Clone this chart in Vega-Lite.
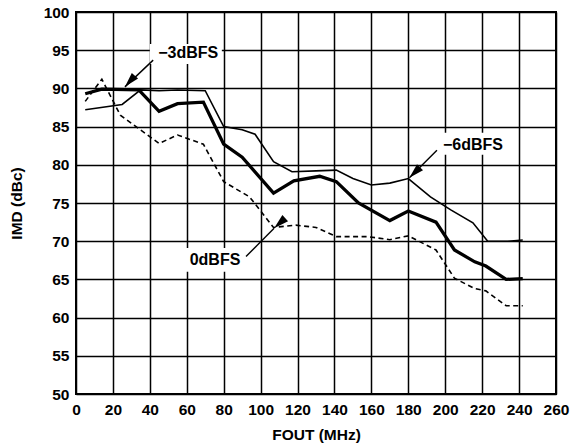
{
  "$schema": "https://vega.github.io/schema/vega-lite/v6.json",
  "width": 480,
  "height": 382,
  "autosize": {"type": "none"},
  "padding": {"left": 76, "top": 12, "right": 15, "bottom": 54},
  "background": "white",
  "config": {
    "font": "Liberation Sans",
    "view": {"stroke": "black", "strokeWidth": 2},
    "axis": {
      "grid": true, "gridColor": "black", "gridWidth": 1.5, "gridOpacity": 1,
      "domain": false, "ticks": false, "labelOverlap": false, "labelBound": false, "labelFlush": false,
      "labelFont": "Liberation Sans", "labelFontWeight": "bold", "labelFontSize": 15.5, "labelColor": "black",
      "titleFont": "Liberation Sans", "titleFontWeight": "bold", "titleFontSize": 15.5, "titleColor": "black"
    }
  },
  "datasets": {
    "curves": [
      {"series": "-6dBFS", "f": 5, "imd": 87.2}, {"series": "-6dBFS", "f": 25, "imd": 87.9}, {"series": "-6dBFS", "f": 35, "imd": 89.8},
      {"series": "-6dBFS", "f": 45, "imd": 89.7}, {"series": "-6dBFS", "f": 55, "imd": 89.8}, {"series": "-6dBFS", "f": 70, "imd": 89.7},
      {"series": "-6dBFS", "f": 80, "imd": 85.0}, {"series": "-6dBFS", "f": 90, "imd": 84.6}, {"series": "-6dBFS", "f": 97, "imd": 84.0},
      {"series": "-6dBFS", "f": 107, "imd": 80.4}, {"series": "-6dBFS", "f": 117, "imd": 79.1}, {"series": "-6dBFS", "f": 130, "imd": 79.2},
      {"series": "-6dBFS", "f": 141, "imd": 79.3}, {"series": "-6dBFS", "f": 150, "imd": 78.2}, {"series": "-6dBFS", "f": 160, "imd": 77.35},
      {"series": "-6dBFS", "f": 170, "imd": 77.6}, {"series": "-6dBFS", "f": 180, "imd": 78.2}, {"series": "-6dBFS", "f": 192, "imd": 75.8},
      {"series": "-6dBFS", "f": 203, "imd": 74.1}, {"series": "-6dBFS", "f": 215, "imd": 72.4}, {"series": "-6dBFS", "f": 223, "imd": 70.0},
      {"series": "-6dBFS", "f": 234, "imd": 70.0}, {"series": "-6dBFS", "f": 242, "imd": 70.15},
      {"series": "-3dBFS", "f": 5, "imd": 89.3}, {"series": "-3dBFS", "f": 14, "imd": 89.9}, {"series": "-3dBFS", "f": 34, "imd": 89.8},
      {"series": "-3dBFS", "f": 45, "imd": 87.0}, {"series": "-3dBFS", "f": 55, "imd": 88.0}, {"series": "-3dBFS", "f": 69, "imd": 88.2},
      {"series": "-3dBFS", "f": 80, "imd": 82.7}, {"series": "-3dBFS", "f": 90, "imd": 81.0}, {"series": "-3dBFS", "f": 107, "imd": 76.3},
      {"series": "-3dBFS", "f": 118, "imd": 77.9}, {"series": "-3dBFS", "f": 132, "imd": 78.5}, {"series": "-3dBFS", "f": 141, "imd": 77.8},
      {"series": "-3dBFS", "f": 153, "imd": 75.0}, {"series": "-3dBFS", "f": 170, "imd": 72.7}, {"series": "-3dBFS", "f": 180, "imd": 73.95},
      {"series": "-3dBFS", "f": 195, "imd": 72.5}, {"series": "-3dBFS", "f": 205, "imd": 68.85}, {"series": "-3dBFS", "f": 216, "imd": 67.3},
      {"series": "-3dBFS", "f": 222, "imd": 66.75}, {"series": "-3dBFS", "f": 233, "imd": 65.0}, {"series": "-3dBFS", "f": 242, "imd": 65.1},
      {"series": "0dBFS", "f": 5, "imd": 88.3}, {"series": "0dBFS", "f": 14, "imd": 91.2}, {"series": "0dBFS", "f": 24, "imd": 86.5},
      {"series": "0dBFS", "f": 45, "imd": 82.8}, {"series": "0dBFS", "f": 55, "imd": 83.9}, {"series": "0dBFS", "f": 69, "imd": 82.7},
      {"series": "0dBFS", "f": 80, "imd": 77.8}, {"series": "0dBFS", "f": 94, "imd": 75.8}, {"series": "0dBFS", "f": 107, "imd": 71.8},
      {"series": "0dBFS", "f": 119, "imd": 72.1}, {"series": "0dBFS", "f": 130, "imd": 71.8}, {"series": "0dBFS", "f": 141, "imd": 70.6},
      {"series": "0dBFS", "f": 158, "imd": 70.6}, {"series": "0dBFS", "f": 170, "imd": 70.2}, {"series": "0dBFS", "f": 180, "imd": 70.7},
      {"series": "0dBFS", "f": 195, "imd": 68.85}, {"series": "0dBFS", "f": 205, "imd": 65.15}, {"series": "0dBFS", "f": 216, "imd": 63.8},
      {"series": "0dBFS", "f": 222, "imd": 63.5}, {"series": "0dBFS", "f": 233, "imd": 61.55}, {"series": "0dBFS", "f": 242, "imd": 61.55}
    ],
    "notes": [
      {"label": "−3dBFS", "tx": 60.8, "ty": 94.6, "ax": 41.8, "ay": 93.7, "px": 26.5, "py": 90.2, "bx1": 40, "bx2": 79, "by1": 93.2, "by2": 95.8},
      {"label": "−6dBFS", "tx": 215, "ty": 82.6, "ax": 195.5, "ay": 81.9, "px": 180.6, "py": 78.3, "bx1": 196, "bx2": 234, "by1": 81.3, "by2": 84.2},
      {"label": "0dBFS", "tx": 75.3, "ty": 67.5, "ax": 92.1, "ay": 68.0, "px": 107.3, "py": 71.7, "bx1": 58.5, "bx2": 92.1, "by1": 66.0, "by2": 69.1}
    ]
  },
  "encoding": {
    "x": {"type": "quantitative", "scale": {"domain": [0, 260], "nice": false},
          "axis": {"values": [0, 20, 40, 60, 80, 100, 120, 140, 160, 180, 200, 220, 240, 260], "title": "FOUT (MHz)", "labelPadding": 8, "titlePadding": 10}},
    "y": {"type": "quantitative", "scale": {"domain": [50, 100], "nice": false},
          "axis": {"values": [50, 55, 60, 65, 70, 75, 80, 85, 90, 95, 100], "title": "IMD (dBc)", "labelPadding": 7, "titlePadding": 19}}
  },
  "layer": [
    {
      "data": {"name": "notes"},
      "mark": {"type": "rect", "fill": "white", "stroke": null},
      "encoding": {"x": {"field": "bx1"}, "x2": {"field": "bx2"}, "y": {"field": "by1"}, "y2": {"field": "by2"}}
    },
    {
      "data": {"name": "curves"},
      "transform": [{"filter": "datum.series === '-6dBFS'"}],
      "mark": {"type": "line", "color": "black", "strokeWidth": 1.6},
      "encoding": {"x": {"field": "f"}, "y": {"field": "imd"}}
    },
    {
      "data": {"name": "curves"},
      "transform": [{"filter": "datum.series === '-3dBFS'"}],
      "mark": {"type": "line", "color": "black", "strokeWidth": 3.3},
      "encoding": {"x": {"field": "f"}, "y": {"field": "imd"}}
    },
    {
      "data": {"name": "curves"},
      "transform": [{"filter": "datum.series === '0dBFS'"}],
      "mark": {"type": "line", "color": "black", "strokeWidth": 1.6, "strokeDash": [5, 3.5]},
      "encoding": {"x": {"field": "f"}, "y": {"field": "imd"}}
    },
    {
      "data": {"name": "notes"},
      "mark": {"type": "rule", "color": "black", "strokeWidth": 1.4},
      "encoding": {"x": {"field": "ax"}, "y": {"field": "ay"}, "x2": {"field": "px"}, "y2": {"field": "py"}}
    },
    {
      "data": {"name": "notes"},
      "mark": {"type": "point", "shape": "M0,0L0.45,1.6L-0.45,1.6Z", "filled": true, "color": "black", "opacity": 1, "size": 350},
      "encoding": {
        "x": {"field": "px"}, "y": {"field": "py"},
        "angle": {"field": "label", "type": "nominal", "scale": {"domain": ["−3dBFS", "−6dBFS", "0dBFS"], "range": [222, 228, 44.6]}, "legend": null}
      }
    },
    {
      "data": {"name": "notes"},
      "mark": {"type": "text", "font": "Liberation Sans", "fontWeight": "bold", "fontSize": 16, "color": "black", "align": "center", "baseline": "middle"},
      "encoding": {"x": {"field": "tx"}, "y": {"field": "ty"}, "text": {"field": "label"}}
    }
  ]
}
